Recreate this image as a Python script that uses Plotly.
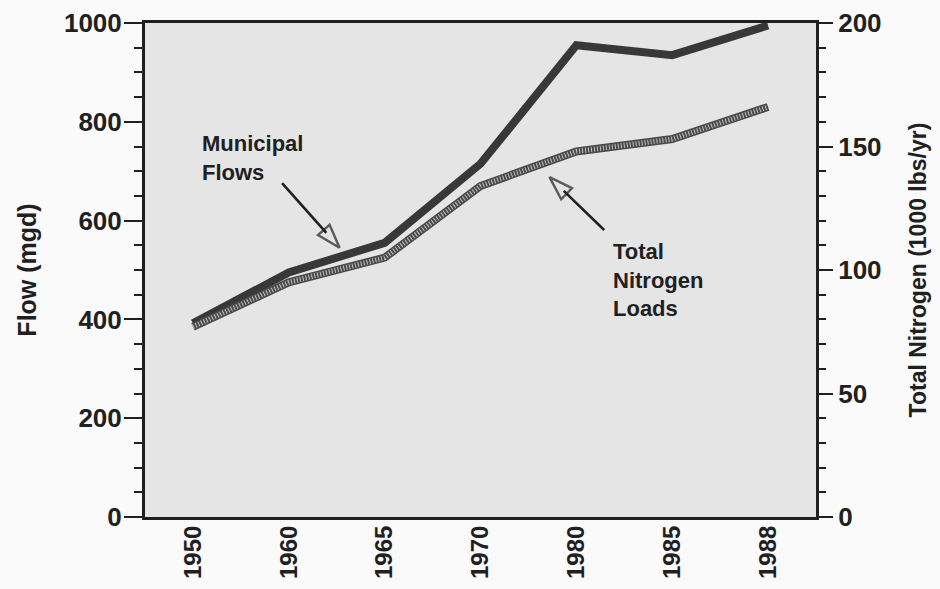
import plotly.graph_objects as go

# ---- data ----
years = ["1950", "1960", "1965", "1970", "1980", "1985", "1988"]
flow_mgd = [392, 495, 555, 715, 955, 935, 995]           # Municipal flows, left axis
nitrogen_klbs = [77, 95, 105, 134, 148, 153, 166]         # Total nitrogen loads, right axis

idx = list(range(len(years)))

INK = "#202020"
FONT = "Liberation Sans, Arial, Helvetica, sans-serif"


def callout_arrow(fig, tail, tip, head_frac):
    """Shaft from tail to the base of an open arrow head placed at tip (flow-axis coords)."""
    bx = tail[0] + head_frac * (tip[0] - tail[0])
    by = tail[1] + head_frac * (tip[1] - tail[1])
    fig.add_trace(go.Scatter(x=[tail[0], bx], y=[tail[1], by], mode="lines",
                             line=dict(color=INK, width=2.6), hoverinfo="skip", showlegend=False))
    fig.add_trace(go.Scatter(x=[bx, tip[0]], y=[by, tip[1]], mode="markers",
                             marker=dict(symbol="arrow-open", size=[0, 25], angleref="previous",
                                         color=INK, line=dict(width=2.4, color=INK)),
                             hoverinfo="skip", showlegend=False))


fig = go.Figure()

# Total nitrogen: hatched-looking band (dark base + light dashes)
fig.add_trace(go.Scatter(x=idx, y=nitrogen_klbs, yaxis="y2", mode="lines",
                         line=dict(color="#4a4a4a", width=8), name="Total Nitrogen Loads",
                         showlegend=False))
fig.add_trace(go.Scatter(x=idx, y=nitrogen_klbs, yaxis="y2", mode="lines",
                         line=dict(color="#c4c4c4", width=5, dash="1px,2px"),
                         hoverinfo="skip", showlegend=False))
# Municipal flows: solid dark band
fig.add_trace(go.Scatter(x=idx, y=flow_mgd, mode="lines",
                         line=dict(color="#383838", width=8), name="Municipal Flows",
                         showlegend=False))

# callout arrows (annotation geometry, in axis units)
callout_arrow(fig, tail=(0.93, 676), tip=(1.53, 545), head_frac=0.77)
callout_arrow(fig, tail=(4.29, 581), tip=(3.72, 688), head_frac=0.74)

fig.add_annotation(x=0.07, y=785, xref="x", yref="y", text="Municipal<br>Flows",
                   showarrow=False, xanchor="left", yanchor="top", align="left",
                   font=dict(family=FONT, size=22, color=INK, weight="bold"))
fig.add_annotation(x=4.36, y=566, xref="x", yref="y", text="Total<br>Nitrogen<br>Loads",
                   showarrow=False, xanchor="left", yanchor="top", align="left",
                   font=dict(family=FONT, size=22, color=INK, weight="bold"))

tickfont = dict(family=FONT, size=26, color=INK, weight="bold")

fig.update_layout(
    width=940, height=589, autosize=False,
    margin=dict(l=145, r=124, t=23, b=72, autoexpand=False),
    paper_bgcolor="#fafafa",
    plot_bgcolor="#e5e5e5",
    font=dict(family=FONT, color=INK),
    xaxis=dict(range=[-0.5, 6.5], tickvals=idx, ticktext=years, tickangle=-90,
               tickfont=dict(family=FONT, size=24, color=INK, weight="bold"),
               ticklabelstandoff=-4,
               ticks="", showline=True, mirror=True, linecolor=INK, linewidth=3,
               showgrid=False, zeroline=False, fixedrange=True, automargin=False),
    yaxis=dict(range=[0, 1000], tickvals=[0, 200, 400, 600, 800, 1000],
               ticks="outside", ticklen=18, tickwidth=2, tickcolor=INK,
               minor=dict(dtick=50, ticks="outside", ticklen=8, tickwidth=2, tickcolor=INK),
               showline=True, linecolor=INK, linewidth=3, showgrid=False, zeroline=False,
               tickfont=tickfont, automargin=False, ticklabelstandoff=-3,
               title=dict(text="Flow (mgd)", standoff=21,
                          font=dict(family=FONT, size=25, color=INK, weight="bold"))),
    yaxis2=dict(range=[0, 200], tickvals=[0, 50, 100, 150, 200], overlaying="y", side="right",
                ticks="outside", ticklen=14, tickwidth=2, tickcolor=INK,
                minor=dict(dtick=10, ticks="outside", ticklen=7, tickwidth=2, tickcolor=INK),
                showline=True, linecolor=INK, linewidth=3, showgrid=False, zeroline=False,
                tickfont=tickfont, automargin=False,
                title=dict(text="Total Nitrogen (1000 lbs/yr)", standoff=30,
                           font=dict(family=FONT, size=23, color=INK, weight="bold"))),
)

fig.write_html("out.html",
               config={"displayModeBar": False},
               post_script="document.body.style.margin='0';document.body.style.overflow='hidden';")
